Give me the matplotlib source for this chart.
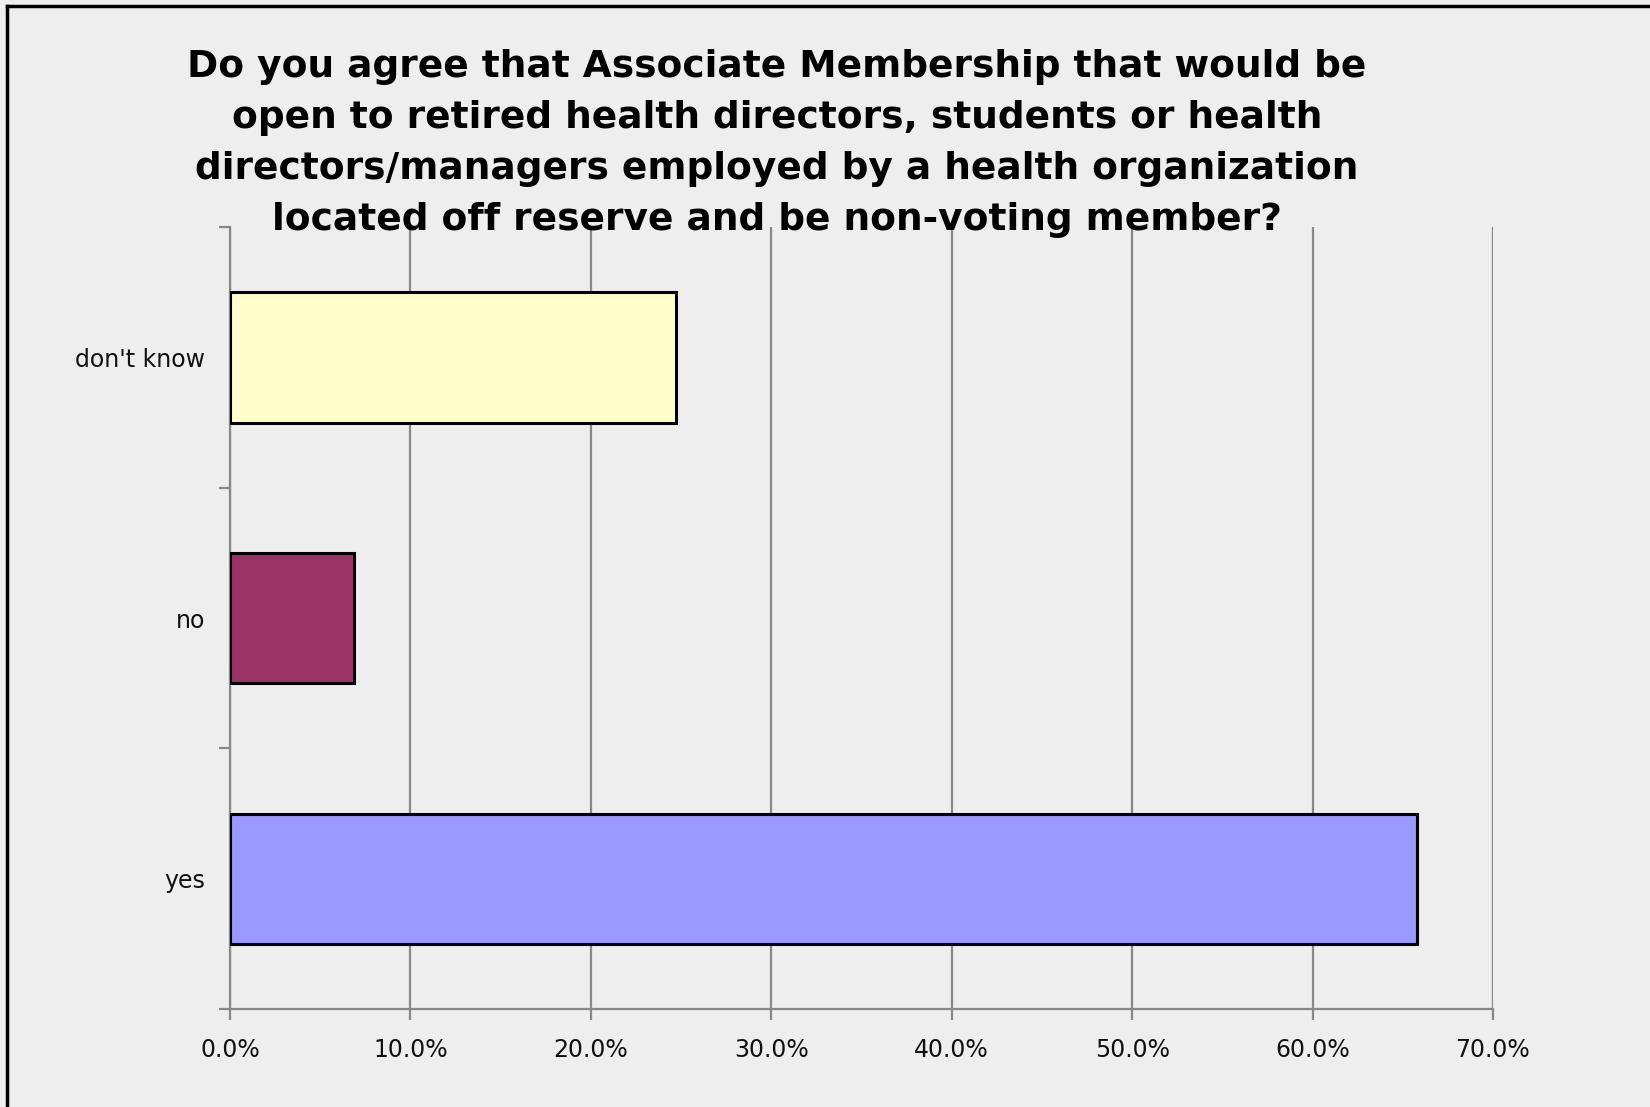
import matplotlib.pyplot as plt
from matplotlib.ticker import FuncFormatter, MultipleLocator, FixedLocator
from matplotlib.lines import Line2D

# Survey responses (share of respondents, %)
categories = ["yes", "no", "don't know"]
shares = [65.8, 6.9, 24.7]
bar_colors = ["#9999ff", "#993366", "#ffffcc"]

title = ("Do you agree that Associate Membership that would be\n"
         "open to retired health directors, students or health\n"
         "directors/managers employed by a health organization\n"
         "located off reserve and be non-voting member?")

BG = "#eeeeee"
GRID = "#888888"
LABEL_FONT = "DejaVu Sans"

fig = plt.figure(figsize=(16.5, 11.07), dpi=100)
fig.patch.set_facecolor(BG)

# Plot area in figure pixels: x 230..1493, y 227..1009 (from top)
W, H = 1650, 1107
ax = fig.add_axes([230 / W, 1 - 1009 / H, (1493 - 230) / W, (1009 - 227) / H])
ax.set_facecolor(BG)

ypos = list(range(len(categories)))
ax.barh(ypos, shares, height=0.5, color=bar_colors,
        edgecolor="black", linewidth=2.2, zorder=3)

ax.set_xlim(0, 70)
ax.set_ylim(-0.5, len(categories) - 0.5)

ax.xaxis.set_major_locator(MultipleLocator(10))
ax.xaxis.set_major_formatter(FuncFormatter(lambda v, _: f"{v:.1f}%"))
ax.grid(axis="x", color=GRID, linewidth=1.6, zorder=1)

# Category labels at bar centres, tick marks on category boundaries
ax.yaxis.set_major_locator(FixedLocator(ypos))
ax.set_yticklabels(categories)
ax.yaxis.set_minor_locator(FixedLocator([-0.5, 0.5, 1.5, 2.5]))
ax.tick_params(axis="y", which="major", length=0, pad=18)
ax.tick_params(axis="y", which="minor", length=8, width=1.6, color=GRID)
ax.tick_params(axis="x", length=8, width=1.6, color=GRID, pad=13)
ax.tick_params(axis="both", which="major", labelsize=17,
               labelcolor="#111111", labelfontfamily=LABEL_FONT)

for side in ("top", "right"):
    ax.spines[side].set_visible(False)
for side in ("left", "bottom"):
    ax.spines[side].set_color(GRID)
    ax.spines[side].set_linewidth(1.6)

fig.text(777 / W, 1 - 49 / H, title, ha="center", va="top",
         fontsize=27, fontweight="bold", fontfamily="DejaVu Sans",
         linespacing=1.54, color="black")

# Chart frame: only the top and left edges fall inside the canvas
fig.add_artist(Line2D([7 / W, 7 / W], [0, 1 - 6 / H], transform=fig.transFigure,
                      color="black", linewidth=2.5))
fig.add_artist(Line2D([7 / W, 1], [1 - 6 / H, 1 - 6 / H], transform=fig.transFigure,
                      color="black", linewidth=2.5))

fig.savefig("out.png", dpi=100, facecolor=BG)
